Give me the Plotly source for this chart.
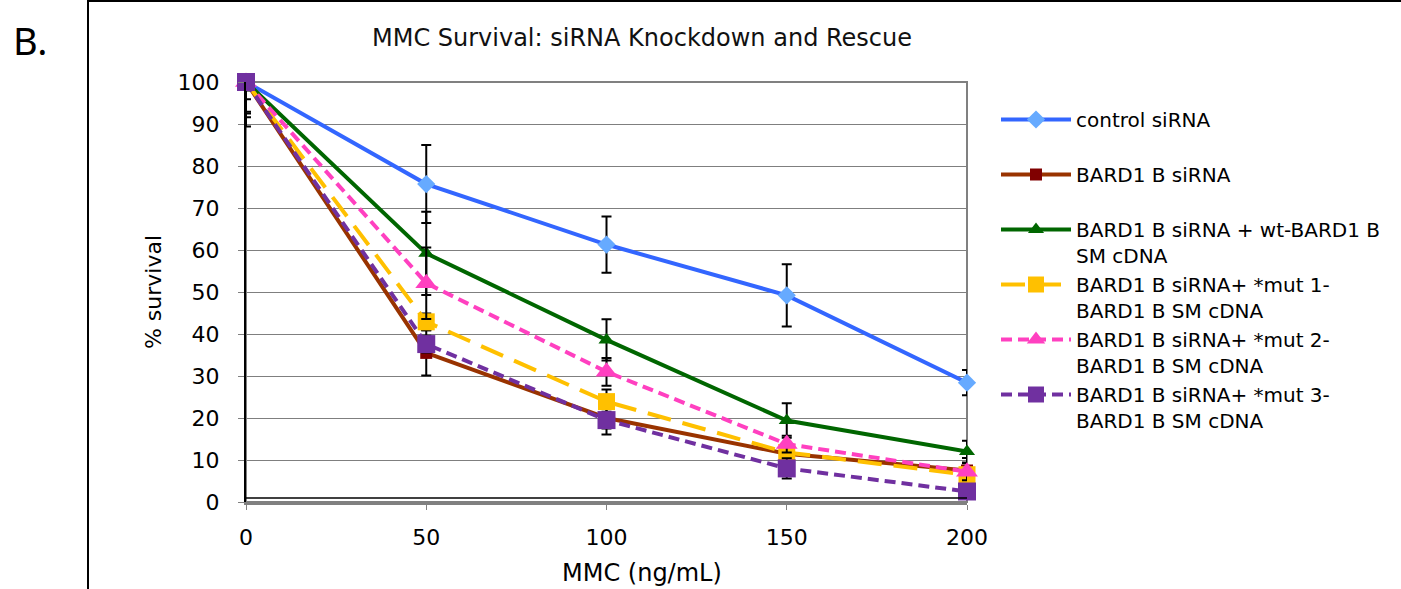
import plotly.graph_objects as go

# ---- data ----
mmc = [0, 50, 100, 150, 200]

series_names = [
    "control siRNA",
    "BARD1 B siRNA",
    "BARD1 B siRNA + wt-BARD1 B<br>SM cDNA",
    "BARD1 B siRNA+ *mut 1-<br>BARD1 B SM cDNA",
    "BARD1 B siRNA+ *mut 2-<br>BARD1 B SM cDNA",
    "BARD1 B siRNA+ *mut 3-<br>BARD1 B SM cDNA",
]

control = [100, 75.7, 61.3, 49.2, 28.4]
bard1 = [100, 35.5, 20.0, 11.5, 7.5]
wt_rescue = [100, 59.2, 38.6, 19.4, 12.0]
mut1 = [100, 42.9, 23.9, 11.8, 6.5]
mut2 = [100, 52.1, 31.0, 13.8, 7.2]
mut3 = [100, 37.6, 19.5, 8.0, 2.5]

control_err = [10.6, 9.3, 6.7, 7.4, 3.0]
bard1_err = [4.1, 5.4, 3.9, 2.0, 3.0]
wt_err = [7.1, 9.9, 4.9, 4.1, 2.6]
mut1_err = [7.5, 2.0, 2.9, 1.5, 1.5]
mut2_err = [8.4, 8.5, 3.3, 2.0, 2.0]
mut3_err = [2.0, 2.0, 2.0, 2.4, 1.0]

y_ticks = [0, 10, 20, 30, 40, 50, 60, 70, 80, 90, 100]
x_ticks = [0, 50, 100, 150, 200]

values = [control, bard1, wt_rescue, mut1, mut2, mut3]
errors = [control_err, bard1_err, wt_err, mut1_err, mut2_err, mut3_err]

styles = [
    dict(line_color="#3366ff", dash="solid", marker_color="#66aaff", symbol="diamond", size=14),
    dict(line_color="#993300", dash="solid", marker_color="#800000", symbol="square", size=12),
    dict(line_color="#006600", dash="solid", marker_color="#006600", symbol="triangle-up", size=14),
    dict(line_color="#ffc000", dash="24px,12px", marker_color="#ffc000", symbol="square", size=17),
    dict(line_color="#ff40c0", dash="11px,6px", marker_color="#ff40c0", symbol="triangle-up", size=19),
    dict(line_color="#7030a0", dash="11px,6px", marker_color="#7030a0", symbol="square", size=18),
]

fig = go.Figure()
for name, vals, err, st in zip(series_names, values, errors, styles):
    # upper whiskers at the 100% point are cut off by the axis maximum
    err_up = [0] + err[1:]
    legend_text = name if "<br>" in name else name + "<br>\u00a0"
    fig.add_trace(go.Scatter(
        x=mmc, y=vals, name=legend_text, mode="lines+markers",
        line=dict(color=st["line_color"], width=4, dash=st["dash"]),
        marker=dict(color=st["marker_color"], symbol=st["symbol"], size=st["size"],
                    line=dict(width=0)),
        error_y=dict(type="data", symmetric=False, array=err_up, arrayminus=err,
                     color="black", thickness=2, width=5),
        cliponaxis=False,
    ))

W, H = 1401, 589
L, R, T, B = 246, 434, 82, 87
pw, ph = W - L - R, H - T - B

def px_to_paper_x(px):
    return (px - L) / pw

def px_to_paper_y(py):
    return (H - B - py) / ph

fig.update_layout(
    width=W, height=H,
    margin=dict(l=L, r=R, t=T, b=B, pad=0),
    paper_bgcolor="white", plot_bgcolor="white",
    font=dict(family="DejaVu Sans", color="black"),
    title=dict(text="MMC Survival: siRNA Knockdown and Rescue",
               font=dict(family="DejaVu Sans", size=24, color="#111111"),
               xref="container", yref="container", x=642 / W, y=1 - 38 / H,
               xanchor="center", yanchor="middle"),
    showlegend=True,
    legend=dict(x=px_to_paper_x(996), y=px_to_paper_y(100), xanchor="left", yanchor="top",
                font=dict(family="DejaVu Sans", size=20, color="black"),
                valign="top", itemwidth=70, tracegroupgap=0,
                bgcolor="rgba(0,0,0,0)", borderwidth=0),
    xaxis=dict(range=[0, 200], tickvals=x_ticks, ticks="outside", ticklen=5, tickwidth=1,
               tickcolor="#808080", showline=True, linecolor="#808080", linewidth=3,
               showgrid=False, zeroline=False,
               tickfont=dict(family="DejaVu Sans", size=22, color="black"),
               ticklabelstandoff=9),
    yaxis=dict(range=[0, 100], tickvals=y_ticks, ticks="outside", ticklen=6, tickwidth=1,
               tickcolor="#808080", showline=True, linecolor="black", linewidth=2,
               showgrid=True, gridcolor="#7f7f7f", gridwidth=1, zeroline=False,
               tickfont=dict(family="DejaVu Sans", size=22, color="black"),
               ticklabelstandoff=14,
               title=dict(text="% survival", font=dict(family="DejaVu Sans", size=22),
                          standoff=10)),
)

# plot-area border, inner axis line and outer figure frame
fig.add_shape(type="rect", xref="paper", yref="paper", x0=0, x1=1, y0=0, y1=1,
              line=dict(color="#808080", width=2), layer="below")
fig.add_shape(type="line", xref="paper", yref="paper", x0=0, x1=1,
              y0=4 / ph, y1=4 / ph, line=dict(color="black", width=1.5))
fig.add_shape(type="rect", xref="paper", yref="paper",
              x0=px_to_paper_x(88), x1=px_to_paper_x(1450),
              y0=px_to_paper_y(650), y1=px_to_paper_y(1),
              line=dict(color="black", width=2))

fig.add_annotation(text="MMC (ng/mL)", xref="paper", yref="paper",
                   x=px_to_paper_x(642), y=px_to_paper_y(573),
                   xanchor="center", yanchor="middle", showarrow=False,
                   font=dict(family="DejaVu Sans", size=24, color="black"))
fig.add_annotation(text="B.", xref="paper", yref="paper",
                   x=px_to_paper_x(30), y=px_to_paper_y(40),
                   xanchor="center", yanchor="middle", showarrow=False,
                   font=dict(family="Noto Sans", size=38, color="black"))

fig.write_html("out.html")
